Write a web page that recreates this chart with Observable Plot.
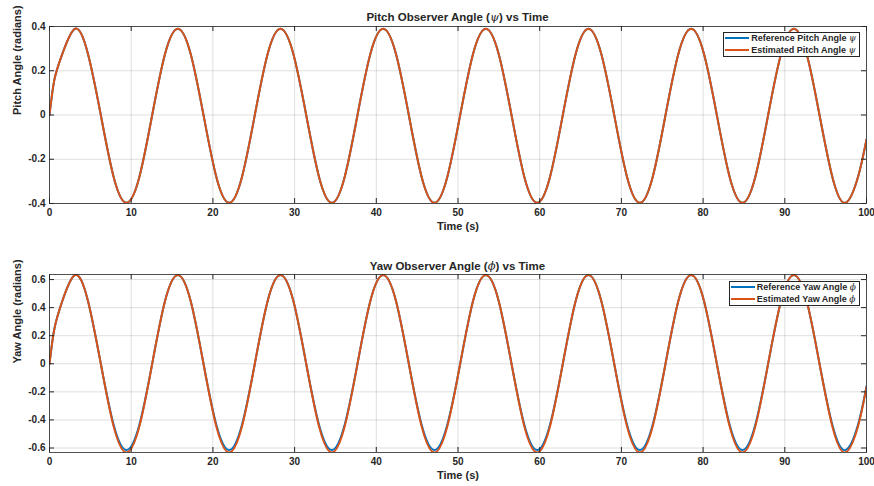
<!DOCTYPE html>
<html>
<head>
<meta charset="utf-8">
<script src="https://cdn.jsdelivr.net/npm/d3@7"></script>
<script src="https://cdn.jsdelivr.net/npm/@observablehq/plot@0.6"></script>
<style>
  body { margin: 0; background: #fff; }
  #fig { position: relative; width: 874px; height: 486px; font-family: "Liberation Sans", Arial, sans-serif; color: #262626; }
  #fig svg { display: block; }
  .title { position: absolute; left: 49px; width: 817px; text-align: center; font-weight: bold; font-size: 11.5px; line-height: 12px; white-space: nowrap; }
  .sym { font-family: "DejaVu Serif", serif; font-style: italic; font-weight: normal; }
  .legend { position: absolute; right: 14px; background: #fff; border: 1px solid #262626; font-size: 9px; font-weight: bold; padding: 0 3px 0 1px; }
  .legend .row { display: flex; align-items: center; height: 11.5px; white-space: nowrap; }
  .legend .swatch { width: 24px; height: 2px; margin-right: 2px; }
</style>
</head>
<body>
<div id="fig"></div>
<script>
// Sample times (s)
const time = [0, 0.6, 1.57, 3.14, 4.71, 6.28, 7.85, 9.42, 11.0, 12.57, 14.14, 15.71, 17.28, 18.85,
  20.42, 21.99, 23.56, 25.13, 26.7, 28.27, 29.85, 31.42, 32.99, 34.56, 36.13, 37.7, 39.27, 40.84,
  42.41, 43.98, 45.55, 47.12, 48.69, 50.27, 51.84, 53.41, 54.98, 56.55, 58.12, 59.69, 61.26, 62.83,
  64.4, 65.97, 67.54, 69.12, 70.69, 72.26, 73.83, 75.4, 76.97, 78.54, 80.11, 81.68, 83.25, 84.82,
  86.39, 87.96, 89.54, 91.11, 92.68, 94.25, 95.82, 97.39, 98.96, 100];

// Pitch angle psi (rad)
const pitchReference = [0, 0.16,
  0.276, 0.39, 0.276, 0, -0.28, -0.397, -0.28, 0,
  0.276, 0.39, 0.276, 0, -0.28, -0.397, -0.28, 0,
  0.276, 0.39, 0.276, 0, -0.28, -0.397, -0.28, 0,
  0.276, 0.39, 0.276, 0, -0.28, -0.397, -0.28, 0,
  0.276, 0.39, 0.276, 0, -0.28, -0.397, -0.28, 0,
  0.276, 0.39, 0.276, 0, -0.28, -0.397, -0.28, 0,
  0.276, 0.39, 0.276, 0, -0.28, -0.397, -0.28, 0,
  0.276, 0.39, 0.276, 0, -0.28, -0.397, -0.28,
  -0.11];
const pitchEstimated = [0, 0.16,
  0.276, 0.39, 0.276, 0, -0.28, -0.397, -0.28, 0,
  0.276, 0.39, 0.276, 0, -0.28, -0.397, -0.28, 0,
  0.276, 0.39, 0.276, 0, -0.28, -0.397, -0.28, 0,
  0.276, 0.39, 0.276, 0, -0.28, -0.397, -0.28, 0,
  0.276, 0.39, 0.276, 0, -0.28, -0.397, -0.28, 0,
  0.276, 0.39, 0.276, 0, -0.28, -0.397, -0.28, 0,
  0.276, 0.39, 0.276, 0, -0.28, -0.397, -0.28, 0,
  0.276, 0.39, 0.276, 0, -0.28, -0.397, -0.28,
  -0.11];

// Yaw angle phi (rad)
const yawReference = [0, 0.25,
  0.447, 0.632, 0.447, 0, -0.435, -0.615, -0.435, 0,
  0.447, 0.632, 0.447, 0, -0.435, -0.615, -0.435, 0,
  0.447, 0.632, 0.447, 0, -0.435, -0.615, -0.435, 0,
  0.447, 0.632, 0.447, 0, -0.435, -0.615, -0.435, 0,
  0.447, 0.632, 0.447, 0, -0.435, -0.615, -0.435, 0,
  0.447, 0.632, 0.447, 0, -0.435, -0.615, -0.435, 0,
  0.447, 0.632, 0.447, 0, -0.435, -0.615, -0.435, 0,
  0.447, 0.632, 0.447, 0, -0.435, -0.615, -0.435,
  -0.16];
const yawEstimated = [0, 0.25,
  0.447, 0.632, 0.447, 0, -0.447, -0.632, -0.447, 0,
  0.447, 0.632, 0.447, 0, -0.447, -0.632, -0.447, 0,
  0.447, 0.632, 0.447, 0, -0.447, -0.632, -0.447, 0,
  0.447, 0.632, 0.447, 0, -0.447, -0.632, -0.447, 0,
  0.447, 0.632, 0.447, 0, -0.447, -0.632, -0.447, 0,
  0.447, 0.632, 0.447, 0, -0.447, -0.632, -0.447, 0,
  0.447, 0.632, 0.447, 0, -0.447, -0.632, -0.447, 0,
  0.447, 0.632, 0.447, 0, -0.447, -0.632, -0.447,
  -0.165];

const xTicks = [0, 10, 20, 30, 40, 50, 60, 70, 80, 90, 100];
const pitchTicks = [-0.4, -0.2, 0, 0.2, 0.4];
const yawTicks = [-0.6, -0.4, -0.2, 0, 0.2, 0.4, 0.6];

const BLUE = "#0072BD";
const ORANGE = "#D95319";
const AXIS = "#262626";

function panel({yDomain, yTicks, yLabel, series, marginTop, marginBottom}) {
  const width = 874, height = 243, marginLeft = 49, marginRight = 8;
  const innerH = height - marginTop - marginBottom;
  const innerW = width - marginLeft - marginRight;
  const tick = 5;
  const lines = series.map(({values, color}) =>
    Plot.line(time.map((t, i) => ({t, v: values[i]})), {
      x: "t", y: "v", stroke: color, strokeWidth: 2, curve: "natural", clip: true
    }));
  return Plot.plot({
    width, height, marginTop, marginBottom, marginLeft, marginRight,
    style: {fontFamily: "'Liberation Sans', Arial, sans-serif", fontSize: "10px", fontWeight: "bold", color: AXIS, background: "#fff"},
    x: {domain: [0, 100]},
    y: {domain: yDomain},
    marks: [
      Plot.gridX(xTicks, {stroke: AXIS, strokeOpacity: 0.15}),
      Plot.gridY(yTicks, {stroke: AXIS, strokeOpacity: 0.15}),
      ...lines,
      // inward tick marks on all four sides
      Plot.tickX(xTicks, {x: d => d, insetTop: innerH - tick, stroke: AXIS}),
      Plot.tickX(xTicks, {x: d => d, insetBottom: innerH - tick, stroke: AXIS}),
      Plot.tickY(yTicks, {y: d => d, insetRight: innerW - tick, stroke: AXIS}),
      Plot.tickY(yTicks, {y: d => d, insetLeft: innerW - tick, stroke: AXIS}),
      Plot.frame({stroke: AXIS, strokeOpacity: 0.8}),
      Plot.axisX(xTicks, {tickSize: 0, tickPadding: 5, tickFormat: d => String(d), label: null}),
      Plot.axisY(yTicks, {tickSize: 0, tickPadding: 4, tickFormat: d => String(d), label: null}),
      Plot.text(["Time (s)"], {frameAnchor: "bottom", dy: 26, fontSize: 11, fontWeight: "bold", fill: AXIS}),
      Plot.text([yLabel], {frameAnchor: "left", dx: -32, rotate: -90, fontSize: 11, fontWeight: "bold", fill: AXIS})
    ]
  });
}

const fig = document.getElementById("fig");

fig.append(panel({
  yDomain: [-0.4, 0.4], yTicks: pitchTicks, yLabel: "Pitch Angle (radians)",
  marginTop: 26, marginBottom: 40,
  series: [{values: pitchReference, color: BLUE}, {values: pitchEstimated, color: ORANGE}]
}));
fig.append(panel({
  yDomain: [-0.632, 0.636], yTicks: yawTicks, yLabel: "Yaw Angle (radians)",
  marginTop: 31, marginBottom: 34,
  series: [{values: yawReference, color: BLUE}, {values: yawEstimated, color: ORANGE}]
}));

function addTitle(html, top) {
  const d = document.createElement("div");
  d.className = "title";
  d.style.top = top + "px";
  d.innerHTML = html;
  fig.append(d);
}
function addLegend(entries, top) {
  const box = document.createElement("div");
  box.className = "legend";
  box.style.top = top + "px";
  for (const {label, sym, color} of entries) {
    const row = document.createElement("div");
    row.className = "row";
    row.innerHTML = `<span class="swatch" style="background:${color}"></span><span>${label} <span class="sym">${sym}</span></span>`;
    box.append(row);
  }
  fig.append(box);
}

addTitle(`Pitch Observer Angle (<span class="sym">ψ</span>) vs Time`, 10.5);
addTitle(`Yaw Observer Angle (<span class="sym">ϕ</span>) vs Time`, 259.5);
addLegend([
  {label: "Reference Pitch Angle", sym: "ψ", color: BLUE},
  {label: "Estimated Pitch Angle", sym: "ψ", color: ORANGE}
], 31.5);
addLegend([
  {label: "Reference Yaw Angle", sym: "ϕ", color: BLUE},
  {label: "Estimated Yaw Angle", sym: "ϕ", color: ORANGE}
], 280.5);
</script>
</body>
</html>
